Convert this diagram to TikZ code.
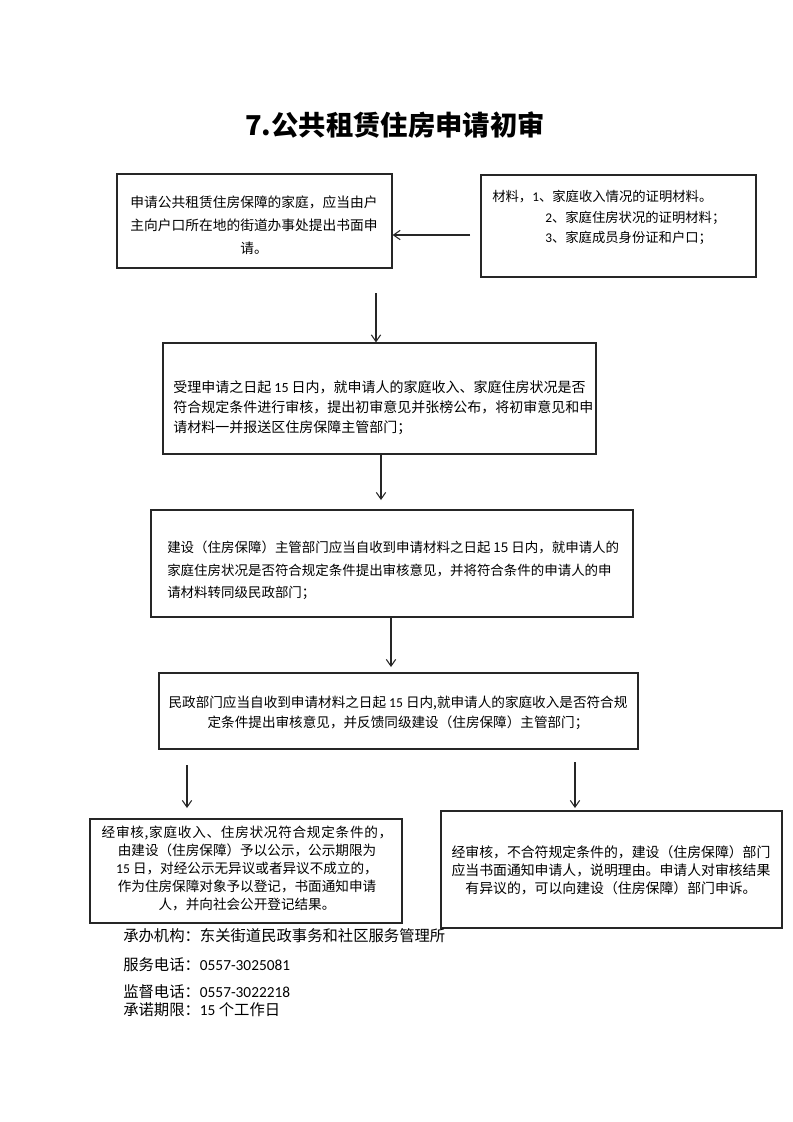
\documentclass[tikz,border=0pt]{standalone}
\usepackage{fontspec}
\setmainfont{Noto Sans CJK SC}
\newfontfamily\lat{Carlito}
\usetikzlibrary{arrows.meta,fit}
\begin{document}
\begin{tikzpicture}[x=0.75pt,y=-0.75pt,
  box/.style={draw=black!85,line width=0.9pt,inner sep=0pt},
  txt/.style={inner sep=0pt},
  arr/.style={draw=black!85,line width=0.8pt,-{Straight Barb[length=5pt,width=7pt]}},
  ftxt/.style={inner sep=0pt,anchor=west,font=\fontsize{11.5pt}{14pt}\selectfont}]
\useasboundingbox (0,0) rectangle (793,1122);
\fill[white] (0,0) rectangle (793,1122);

% title
\node[txt,font=\fontsize{20.5pt}{24pt}\selectfont\bfseries] (title) at (395,125) {7.公共租赁住房申请初审};

% boxes
\node[box,fit={(117,174) (392,268)}] (b1) {};
\node[box,fit={(481,175) (756,277)}] (b0) {};
\node[box,fit={(163,343) (596,454)}] (b2) {};
\node[box,fit={(151,510) (633,617)}] (b3) {};
\node[box,fit={(159,673) (638,749)}] (b4) {};
\node[box,fit={(90,819) (402,923)}] (b5) {};
\node[box,fit={(441,811) (782,928)}] (b6) {};

% texts
\node[txt,align=center,font=\fontsize{10.3pt}{17.25pt}\selectfont] (t1) at (254,225)
 {申请公共租赁住房保障的家庭，应当由户\\主向户口所在地的街道办事处提出书面申\\请。};
\node[txt,anchor=west,align=left,font=\fontsize{10pt}{15.4pt}\selectfont] (t0) at (492,217.5)
 {材料，{\lat 1}、家庭收入情况的证明材料。\\\hspace*{39.75pt}{\lat 2}、家庭住房状况的证明材料；\\\hspace*{39.75pt}{\lat 3}、家庭成员身份证和户口；};
\node[txt,anchor=west,align=left,font=\fontsize{10.5pt}{15pt}\selectfont] (t2) at (173,408)
 {受理申请之日起 {\lat 15} 日内，就申请人的家庭收入、家庭住房状况是否\\符合规定条件进行审核，提出初审意见并张榜公布，将初审意见和申\\请材料一并报送区住房保障主管部门；};
\node[txt,anchor=west,align=left,font=\fontsize{10.1pt}{16.9pt}\selectfont] (t3) at (167,570.5)
 {建设（住房保障）主管部门应当自收到申请材料之日起 15 日内，就申请人的\\家庭住房状况是否符合规定条件提出审核意见，并将符合条件的申请人的申\\请材料转同级民政部门；};
\node[txt,align=center,font=\fontsize{10.2pt}{15pt}\selectfont] (t4) at (398,713)
 {民政部门应当自收到申请材料之日起 {\lat 15} 日内,就申请人的家庭收入是否符合规\\定条件提出审核意见，并反馈同级建设（住房保障）主管部门；};
\node[txt,align=center,font=\fontsize{10.2pt}{13.5pt}\selectfont] (t5) at (247,868)
 {\makebox[218pt][l]{经\hfill{}审\hfill{}核\hfill{},\hfill{}家\hfill{}庭\hfill{}收\hfill{}入\hfill{}、\hfill{}住\hfill{}房\hfill{}状\hfill{}况\hfill{}符\hfill{}合\hfill{}规\hfill{}定\hfill{}条\hfill{}件\hfill{}的\hfill{}，}\\由建设（住房保障）予以公示，公示期限为\\{\lat 15} 日，对经公示无异议或者异议不成立的，\\作为住房保障对象予以登记，书面通知申请\\人，并向社会公开登记结果。};
\node[txt,align=center,font=\fontsize{10.4pt}{13.5pt}\selectfont] (t6) at (611,870)
 {经审核，不合符规定条件的，建设（住房保障）部门\\应当书面通知申请人，说明理由。申请人对审核结果\\有异议的，可以向建设（住房保障）部门申诉。};

% footer
\node[ftxt] (f1) at (123,936) {承办机构：东关街道民政事务和社区服务管理所};
\node[ftxt] (f2) at (123,965) {服务电话：{\lat 0557-3025081}};
\node[ftxt] (f3) at (123,992) {监督电话：{\lat 0557-3022218}};
\node[ftxt] (f4) at (123,1010) {承诺期限：{\lat 15} 个工作日};

% arrows
\coordinate (a1s) at (470,235);
\draw[arr] (a1s) -- (a1s -| b1.east);
\coordinate (a2s) at (376,293);
\draw[arr] (a2s) -- (a2s |- b2.north);
\coordinate (a3e) at (381,500);
\draw[arr] (b2.south -| a3e) -- (a3e);
\coordinate (a4e) at (391,667);
\draw[arr] (b3.south -| a4e) -- (a4e);
\coordinate (a5s) at (187,765);
\coordinate (a5e) at (187,808);
\draw[arr] (a5s) -- (a5e);
\coordinate (a6s) at (575,762);
\coordinate (a6e) at (575,808);
\draw[arr] (a6s) -- (a6e);
\end{tikzpicture}
\end{document}
